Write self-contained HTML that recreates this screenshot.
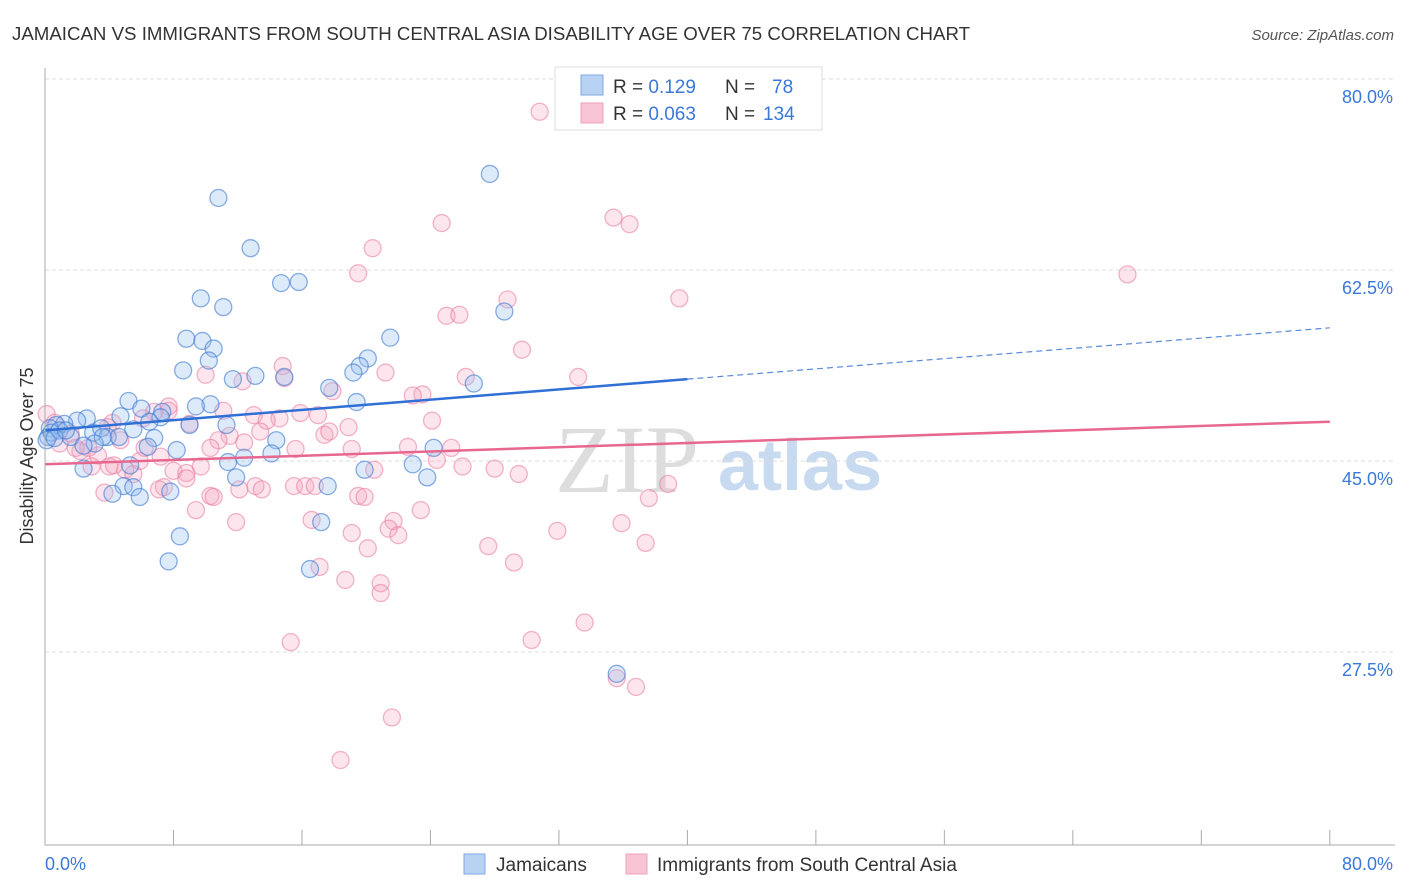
<!DOCTYPE html>
<html><head><meta charset="utf-8"><style>
body{margin:0;background:#fff;font-family:"Liberation Sans",sans-serif;}
#wrap{position:relative;width:1406px;height:892px;overflow:hidden;}
</style></head><body>
<div id="wrap">
<svg id="svg" width="1406" height="892">
<text x="12" y="40" font-size="18" fill="#333" textLength="958" lengthAdjust="spacingAndGlyphs">JAMAICAN VS IMMIGRANTS FROM SOUTH CENTRAL ASIA DISABILITY AGE OVER 75 CORRELATION CHART</text>
<text x="1394" y="40" font-size="15" fill="#555" font-style="italic" text-anchor="end">Source: ZipAtlas.com</text>
<text x="33" y="456" font-size="18" fill="#333" text-anchor="middle" transform="rotate(-90 33 456)">Disability Age Over 75</text>
<text x="555" y="492" font-size="96" fill="#ddd" font-family="Liberation Serif,serif">ZIP</text>
<text x="718" y="490" font-size="72" fill="#c8daf0" font-weight="bold">atlas</text>
<g id="grid"></g><g id="pts"></g><g id="trend"></g>
<line x1="45" y1="68" x2="45" y2="845" stroke="#aaa"/>
<line x1="45" y1="845" x2="1395" y2="845" stroke="#aaa"/>
<text x="45" y="870" font-size="18" fill="#3b78d8">0.0%</text>
<text x="1393" y="870" font-size="18" fill="#3b78d8" text-anchor="end">80.0%</text>
<g>
<rect x="555" y="67" width="267" height="63" fill="#fff" stroke="#ddd"/>
<rect x="581" y="75" width="22" height="20" fill="#b8d2f4" stroke="#7fa8e0"/>
<rect x="581" y="103" width="22" height="20" fill="#f8c4d4" stroke="#eea0ba"/>
<text x="613" y="93" font-size="19" fill="#333">R = <tspan fill="#3b78d8"> 0.129</tspan><tspan x="725">N = </tspan><tspan fill="#3b78d8" x="772">78</tspan></text>
<text x="613" y="120" font-size="19" fill="#333">R = <tspan fill="#3b78d8">0.063</tspan><tspan x="725">N = </tspan><tspan fill="#3b78d8" x="763">134</tspan></text>
</g>
<g>
<rect x="464" y="854" width="21" height="20" fill="#b8d2f4" stroke="#7fa8e0"/>
<text x="496" y="871" font-size="19" fill="#333">Jamaicans</text>
<rect x="626" y="854" width="21" height="20" fill="#f8c4d4" stroke="#eea0ba"/>
<text x="657" y="871" font-size="19" fill="#333">Immigrants from South Central Asia</text>
</g>
</svg>
</div>
<script>
const yTicks=[80,62.5,45,27.5];
const yTickLabels=["80.0%","62.5%","45.0%","27.5%"];
const xTicks=[0,8,16,24,32,40,48,56,64,72,80];
const blueX=[27.7,10.8,12.8,14.7,15.8,9.7,11.1,28.6,8.8,9.8,21.5,10.5,10.2,20.1,19.6,19.2,8.6,13.1,11.7,14.9,26.7,17.7,19.4,5.2,10.3,9.4,6.0,4.7,7.3,7.2,2.6,2.0,1.2,0.7,0.3,0.2,0.4,0.9,1.6,3.0,3.5,3.9,4.6,5.5,6.5,9.0,11.3,6.8,3.1,2.4,6.4,8.2,14.4,14.1,12.4,11.4,11.9,2.4,5.3,22.9,24.2,23.8,19.9,17.6,4.9,5.5,4.2,5.9,7.8,8.4,7.7,16.5,17.2,35.6,0.1,0.6,3.6,1.3];
const blueY=[71.3,69.1,64.5,61.3,61.4,59.9,59.1,58.7,56.2,56.0,56.3,55.3,54.2,54.4,53.7,53.1,53.3,52.8,52.5,52.7,52.1,51.7,50.4,50.5,50.2,50.0,49.8,49.1,49.5,49.0,48.9,48.7,48.4,48.3,48.0,47.2,47.6,47.8,47.2,47.6,48.0,47.2,47.2,47.9,48.6,48.3,48.3,47.1,46.6,46.4,46.3,46.0,46.9,45.7,45.3,44.9,43.5,44.3,44.6,44.7,46.2,43.5,44.2,42.7,42.7,42.6,42.0,41.7,42.2,38.1,35.8,35.1,39.4,25.5,46.9,47.1,47.2,47.8];
const pinkX=[30.8,35.4,36.4,24.7,20.4,19.5,67.4,28.8,39.5,25.0,25.8,29.7,14.8,12.3,10.0,14.9,21.2,33.2,26.2,23.5,22.9,17.9,15.9,14.6,17.0,13.0,13.8,11.1,11.5,10.8,9.0,7.7,6.8,6.1,7.7,4.2,4.7,1.6,0.6,0.1,0.9,2.2,3.3,4.0,5.0,5.9,7.2,8.0,8.8,9.7,10.3,12.4,13.4,15.6,17.4,17.7,18.9,22.6,24.1,25.3,24.4,26.0,28.0,29.5,20.5,19.1,15.5,16.2,16.8,13.1,13.5,12.1,10.3,10.5,9.4,8.8,7.4,7.1,5.5,4.3,3.7,2.9,23.4,21.7,21.4,22.0,19.1,20.1,19.5,19.9,16.6,17.1,18.7,20.9,20.9,11.9,15.3,27.6,29.2,31.9,35.9,37.6,38.8,37.4,30.3,33.6,35.6,36.8,21.6,18.4,6.2,2.7,1.9,3.9];
const pinkY=[77.0,67.3,66.7,66.8,64.5,62.2,62.1,59.8,59.9,58.3,58.4,55.2,53.7,52.3,52.9,52.6,53.1,52.7,52.7,51.1,51.0,51.4,49.4,48.9,49.2,49.2,48.7,49.6,47.3,46.9,48.4,49.6,49.5,48.9,50.0,48.5,46.9,47.5,48.5,49.3,46.6,45.9,45.5,44.5,44.2,45.0,45.4,44.1,43.9,44.5,46.2,46.7,47.7,46.1,47.4,47.7,48.1,46.3,48.7,46.2,45.1,44.5,44.3,43.8,44.2,46.1,42.7,42.7,42.7,42.7,42.4,42.4,41.8,41.7,40.5,43.4,42.6,42.4,43.8,44.6,42.1,44.5,40.5,39.5,38.8,38.2,38.4,37.0,41.8,41.7,39.6,35.3,34.1,33.8,32.9,39.4,28.4,37.2,35.7,38.6,39.3,41.6,42.9,37.5,28.6,30.2,25.1,24.3,21.5,17.6,46.2,46.2,46.2,48.1];
const blueTrend=[47.8,52.5,57.2]; // values at x=0,40,80
const pinkTrend=[44.7,48.6]; // values at x=0,80
const NS="http://www.w3.org/2000/svg";
const X=v=>45+v*16.06;
const Y=v=>79+(80-v)*10.914;
function mk(tag,attrs,parent){const e=document.createElementNS(NS,tag);for(const k in attrs)e.setAttribute(k,attrs[k]);parent.appendChild(e);return e;}
const grid=document.getElementById('grid'),pts=document.getElementById('pts'),tr=document.getElementById('trend');
yTicks.forEach((t,i)=>{
 const l=mk('line',{x1:45,x2:1395,y1:Y(t),y2:Y(t),stroke:'#ddd','stroke-dasharray':'4,3'},grid);
 
 
 const tx=mk('text',{x:1393,y:Y(t)+24,'font-size':18,fill:'#3b78d8','text-anchor':'end'},grid);
 tx.textContent=yTickLabels[i];
 
 
});
xTicks.forEach(t=>{
 const l=mk('line',{x1:X(t),x2:X(t),y1:830,y2:845,stroke:'#aaa'},grid);
 
 
});
pinkX.forEach((x,i)=>{
 const c=mk('circle',{cx:X(x),cy:Y(pinkY[i]),r:8.5,fill:'rgba(244,160,188,0.28)',stroke:'rgba(232,120,160,0.55)','stroke-width':1.3},pts);
 
 
});
blueX.forEach((x,i)=>{
 const c=mk('circle',{cx:X(x),cy:Y(blueY[i]),r:8.5,fill:'rgba(150,190,240,0.32)',stroke:'rgba(60,120,210,0.6)','stroke-width':1.3},pts);
 
 
});
let l=mk('line',{x1:X(0),y1:Y(blueTrend[0]),x2:X(40),y2:Y(blueTrend[1]),stroke:'#2f6fd6','stroke-width':2.5},tr);


l=mk('line',{x1:X(40),y1:Y(blueTrend[1]),x2:X(80),y2:Y(blueTrend[2]),stroke:'#5a8ad8','stroke-width':1.2,'stroke-dasharray':'6,4'},tr);


l=mk('line',{x1:X(0),y1:Y(pinkTrend[0]),x2:X(80),y2:Y(pinkTrend[1]),stroke:'#e8678f','stroke-width':2.5},tr);


</script>
</body></html>
